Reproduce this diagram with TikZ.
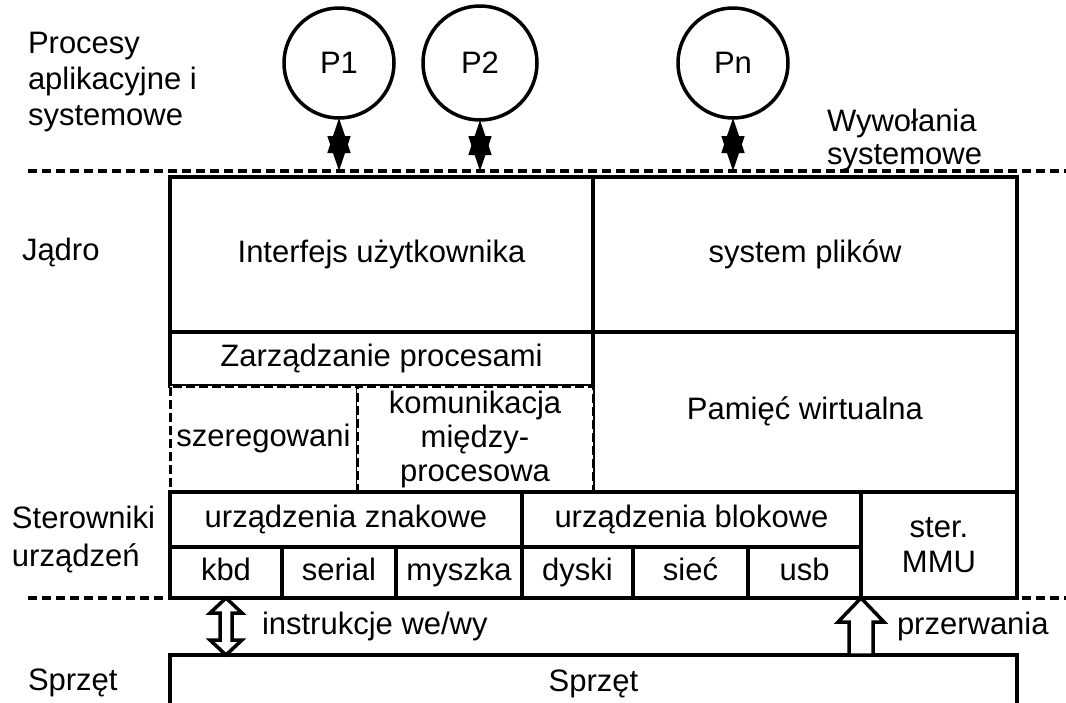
\documentclass[tikz,border=0pt]{standalone}
\usepackage{fontspec}
\setmainfont{Liberation Sans}
\usetikzlibrary{arrows.meta,calc}

\begin{document}
\begin{tikzpicture}[x=1pt,y=-1pt,
  txt/.style={font=\fontsize{31}{36}\selectfont, inner sep=0pt, outer sep=0pt},
  cell/.style 2 args={txt, draw, line width=3.5pt, anchor=north west,
    minimum width=#1, minimum height=#2, align=center},
  one/.style={text height=22pt, text depth=7pt},
  dcell/.style 2 args={cell={#1}{#2}, line width=3pt, fill=white,
    dash pattern=on 9pt off 4pt},
  proc/.style={txt, circle, draw, line width=3.5pt, minimum size=#1},
  sepline/.style={line width=3.5pt, dash pattern=on 9pt off 5pt},
  call/.style={line width=1.5pt,
    {Triangle[length=35pt,width=23pt]}-{Triangle[length=35pt,width=23pt]}},
  blockarrow/.style={draw, line width=3.5pt, fill=white, line join=miter},
  label/.style={txt, anchor=west, align=left}]

\useasboundingbox (0,0) rectangle (1066,702);

% layer separators
\coordinate (topL) at (28,171);
\coordinate (topR) at (1066,171);
\coordinate (botL) at (28,598);
\coordinate (botR) at (1066,598);
\draw[sepline] (topL) -- (topR);
\draw[sepline] (botL) -- (botR);

% processes
\node[proc=110pt] (p1) at (339,63) {P1};
\node[proc=114pt] (p2) at (480,63) {P2};
\node[proc=110pt] (pn) at (733,63) {Pn};

\draw[call] (p1.south) -- (p1.south |- topL);
\draw[call] (p2.south) -- (p2.south |- topL);
\draw[call] (pn.south) -- (pn.south |- topL);

% kernel
\node[cell={423pt}{155pt}, one] (ui) at (170,177) {Interfejs użytkownika};
\node[cell={424pt}{155pt}, one] (fs) at (593,177) {system plików};
\node[cell={423pt}{54pt}, one]  (pm) at (170,332) {Zarządzanie procesami};
\node[cell={424pt}{160pt}, one] (vm) at (593,332) {Pamięć wirtualna};
\node[dcell={187pt}{106pt}, one] (sched) at (170,386) {szeregowani};
\node[dcell={236pt}{106pt}, font=\fontsize{31}{34}\selectfont] (ipc) at (357,386)
  {komunikacja\\między-\\procesowa};

% device drivers
\node[cell={352pt}{55pt}, one]  (chr) at (170,492) {urządzenia znakowe};
\node[cell={339pt}{55pt}, one]  (blk) at (522,492) {urządzenia blokowe};
\node[cell={156pt}{106pt}, font=\fontsize{31}{35}\selectfont] (mmu) at (861,492) {ster.\\MMU};
\node[cell={112pt}{51pt}, one] (kbd)    at (170,547) {kbd};
\node[cell={114pt}{51pt}, one] (serial) at (282,547) {serial};
\node[cell={126pt}{51pt}, one] (mouse)  at (396,547) {myszka};
\node[cell={111pt}{51pt}, one] (disk)   at (522,547) {dyski};
\node[cell={115pt}{51pt}, one] (net)    at (633,547) {sieć};
\node[cell={113pt}{51pt}, one] (usb)    at (748,547) {usb};

% hardware
\node[cell={847pt}{57pt}, one] (hw) at (170,655) {Sprzęt};

% I/O instructions and interrupts
\draw[blockarrow] (kbd.south) -- ++(16,15) -- ++(-10,0) -- ++(0,27) -- ++(10,0)
  -- (kbd.south |- hw.north) -- ++(-16,-15) -- ++(10,0) -- ++(0,-27) -- ++(-10,0) -- cycle;
\draw[blockarrow] (mmu.south west) -- ++(23,24) -- ++(-11,0)
  -- ($(mmu.south west |- hw.north)+(12,0)$) -- ($(mmu.south west |- hw.north)+(-12,0)$)
  -- ($(mmu.south west)+(-12,24)$) -- ++(-11,0) -- cycle;

\node[label, one] (lio)  at (262,627) {instrukcje we/wy};
\node[label, one] (lirq) at (897,627) {przerwania};

% layer names
\node[label] (lproc) at (28,82) {Procesy\\aplikacyjne i\\systemowe};
\node[label, font=\fontsize{31}{33}\selectfont] (lsys) at (827,140) {Wywołania\\systemowe};
\node[label, one] (lkern) at (22,253) {Jądro};
\node[label, font=\fontsize{31}{38}\selectfont] (ldrv) at (12,539) {Sterowniki\\urządzeń};
\node[label, one] (lhw) at (28,683) {Sprzęt};

\end{tikzpicture}
\end{document}
